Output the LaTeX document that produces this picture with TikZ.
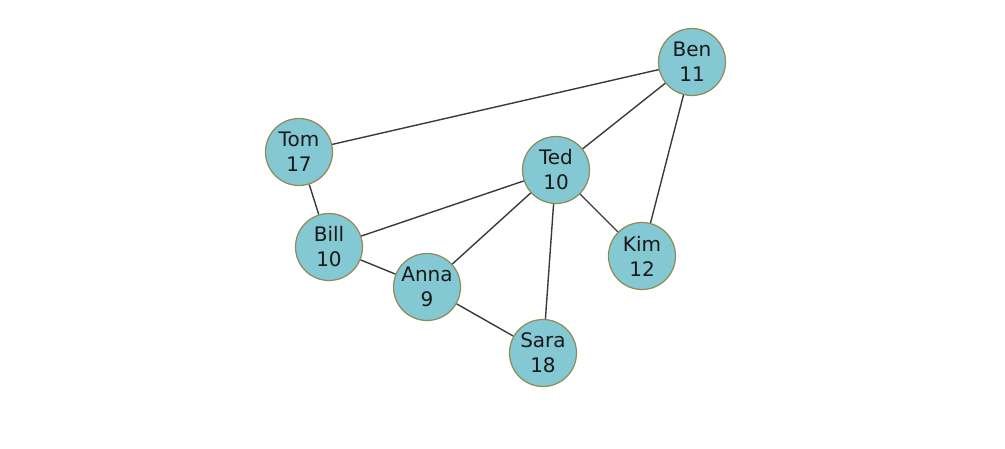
\documentclass[tikz,border=0pt]{standalone}
\usepackage{fontspec}
\setmainfont{DejaVu Sans}
\definecolor{nodefill}{HTML}{84C8D4}
\definecolor{nodeedge}{HTML}{8C8A55}
\definecolor{edgegray}{HTML}{3A3A3A}
\tikzset{
    person/.style={circle, fill=nodefill, draw=nodeedge, line width=1.2pt, minimum size=67pt, inner sep=0pt, align=center, text=black!90, font=\fontsize{20}{25}\selectfont},
    link/.style={draw=edgegray, line width=1.4pt}
}
\begin{document}
\begin{tikzpicture}[x=1pt,y=-1pt]
    \useasboundingbox (0,0) rectangle (1005,449);
    % people
    \node[person] (ben) at (692,62) {Ben\\11};
    \node[person] (tom) at (299,152) {Tom\\17};
    \node[person] (ted) at (556,170) {Ted\\10};
    \node[person] (bill) at (329,247) {Bill\\10};
    \node[person] (kim) at (642,256) {Kim\\12};
    \node[person] (anna) at (427,287) {Anna\\9};
    \node[person] (sara) at (543,353) {Sara\\18};
    % links
    \draw[link] (ben) -- (tom);
    \draw[link] (ben) -- (ted);
    \draw[link] (ben) -- (kim);
    \draw[link] (tom) -- (bill);
    \draw[link] (bill) -- (ted);
    \draw[link] (bill) -- (anna);
    \draw[link] (anna) -- (ted);
    \draw[link] (anna) -- (sara);
    \draw[link] (ted) -- (sara);
    \draw[link] (ted) -- (kim);
\end{tikzpicture}
\end{document}
